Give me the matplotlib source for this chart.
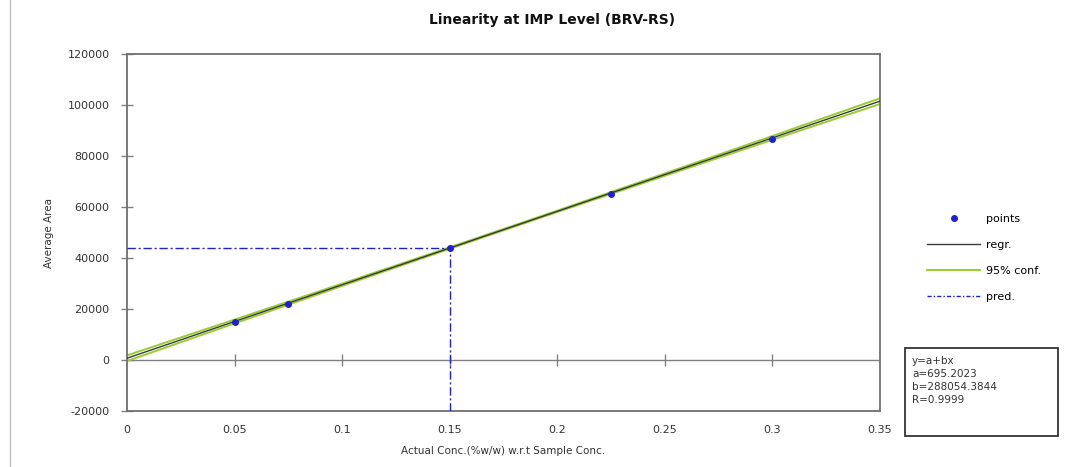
import matplotlib
matplotlib.use("Agg")
import matplotlib.pyplot as plt
from matplotlib.lines import Line2D
from matplotlib.patches import Rectangle

# ---- data ----
conc = [0.05, 0.075, 0.15, 0.225, 0.30]
area = [14900, 21950, 43900, 65100, 86700]
coef_a = 695.2023
coef_b = 288054.3844
r_value = 0.9999
band_x = [0.0, 0.05, 0.10, 0.15, 0.20, 0.25, 0.30, 0.35]
band_half = [1100, 750, 450, 280, 280, 450, 750, 1100]
pred_x = 0.15
x_ticks = [0, 0.05, 0.1, 0.15, 0.2, 0.25, 0.3, 0.35]
x_ticklabels = ["0", "0.05", "0.1", "0.15", "0.2", "0.25", "0.3", "0.35"]
y_ticks = [-20000, 0, 20000, 40000, 60000, 80000, 100000, 120000]

plt.rcParams['font.family'] = ['DejaVu Sans']

W, H = 1065, 467
fig = plt.figure(figsize=(W / 100, H / 100), dpi=100)
ax = fig.add_axes([127 / W, 1 - 411 / H, (880 - 127) / W, (411 - 54) / H])

reg_x = [band_x[0], band_x[-1]]
reg_y = [coef_a + coef_b * x for x in reg_x]
upper = [coef_a + coef_b * x + h for x, h in zip(band_x, band_half)]
lower = [coef_a + coef_b * x - h for x, h in zip(band_x, band_half)]
pred_y = coef_a + coef_b * pred_x

green = "#9acd32"
blue = "#1f1fd6"
ax.plot(band_x, upper, color=green, lw=1.4, zorder=2)
ax.plot(band_x, lower, color=green, lw=1.4, zorder=2)
ax.plot(reg_x, reg_y, color="#3a3a3a", lw=1.0, zorder=3)
ax.plot([0, pred_x], [pred_y, pred_y], color=blue, lw=1.0,
        linestyle=(0, (6, 2, 1.5, 2)), zorder=4)
ax.plot([pred_x, pred_x], [-20000, pred_y], color=blue, lw=1.0,
        linestyle=(0, (6, 2, 1.5, 2)), zorder=4)
ax.plot(conc, area, linestyle="none", marker="o", ms=4, color=blue,
        mec=blue, zorder=5)

# zero line with crossing ticks
ax.axhline(0, color="#808080", lw=1.0, zorder=1)
ax.plot(x_ticks[1:-1], [0] * (len(x_ticks) - 2), linestyle="none", marker="|",
        ms=8, mew=1.0, color="#808080", zorder=1)

ax.set_xlim(0, 0.35)
ax.set_ylim(-20000, 120000)
ax.set_xticks(x_ticks)
ax.set_xticklabels(x_ticklabels)
ax.set_yticks(y_ticks)
ax.set_yticklabels([str(v) for v in y_ticks])
ax.tick_params(axis="x", length=0, pad=10, labelsize=8, labelcolor="#333333")
ax.tick_params(axis="y", direction="inout", length=9, width=1.0, color="#808080",
               pad=8, labelsize=8, labelcolor="#333333")
for s in ax.spines.values():
    s.set_color("#707070")
    s.set_linewidth(1.3)

ax.set_xlabel("Actual Conc.(%w/w) w.r.t Sample Conc.", fontsize=7.5,
              color="#333333", labelpad=8)
ax.set_ylabel("Average Area", fontsize=7.5, color="#333333", labelpad=10)
fig.text(0.5185, 1 - 20 / H, "Linearity at IMP Level (BRV-RS)", ha="center",
         va="center", fontsize=10, fontweight="bold", color="#111111")

handles = [
    Line2D([], [], linestyle="none", marker="o", ms=4, color=blue),
    Line2D([], [], color="#3a3a3a", lw=1.0),
    Line2D([], [], color=green, lw=1.4),
    Line2D([], [], color=blue, lw=1.0, linestyle=(0, (3, 1.5, 1, 1.5))),
]
fig.legend(handles, ["points", "regr.", "95% conf.", "pred."],
           loc="upper left", bbox_to_anchor=(927 / W, 1 - 214 / H),
           frameon=False, fontsize=8, handlelength=4.8, labelspacing=1.45,
           handletextpad=0.55, borderaxespad=0, borderpad=0)

# stats box
fig.add_artist(Rectangle((905 / W, 1 - 436 / H), (1058 - 905) / W, (436 - 348) / H,
                         transform=fig.transFigure, fill=False, ec="#222222", lw=1.2))
box_lines = ["y=a+bx", "a=%.4f" % coef_a, "b=%.4f" % coef_b, "R=%.4f" % r_value]
for i, t in enumerate(box_lines):
    fig.text(912 / W, 1 - (361 + 13 * i) / H, t, fontsize=7.5, color="#333333",
             va="center", ha="left")

# page border line at left
fig.add_artist(Line2D([10 / W, 10 / W], [0, 1], transform=fig.transFigure,
                      color="#c0c0c0", lw=1.0))

fig.savefig("out.png", dpi=100)
